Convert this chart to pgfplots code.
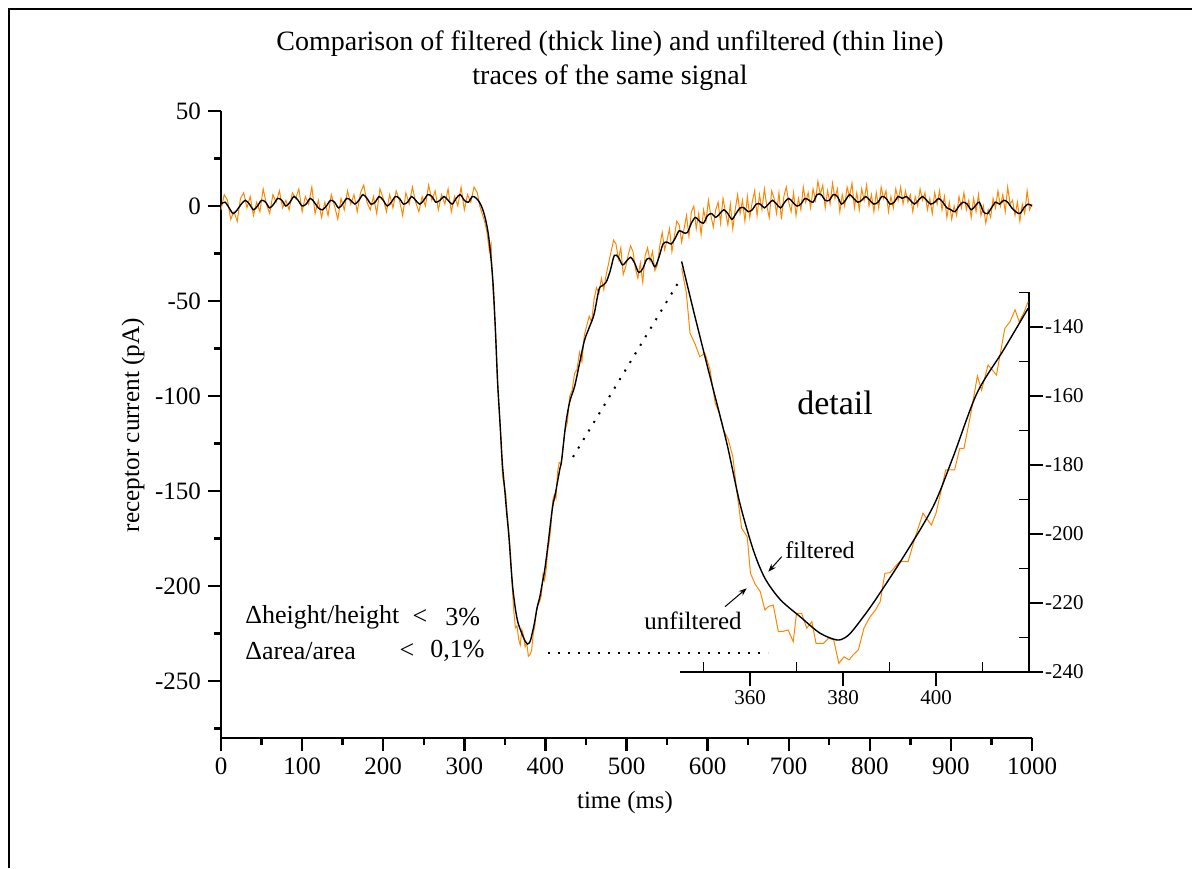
\documentclass[border=0pt]{standalone}
\usepackage{fontspec}
\setmainfont{Liberation Serif}
\usepackage{pgfplots}
\pgfplotsset{compat=1.18}
\usetikzlibrary{arrows.meta}
\definecolor{trace}{RGB}{255,134,0}

\begin{document}
\begin{tikzpicture}
\useasboundingbox (0,0) rectangle (596pt,434pt);
% frame (only top and left edges visible)
\draw[line width=1.3pt] (4.5pt,0pt) -- (4.5pt,429.5pt) -- (596pt,429.5pt);

\begin{axis}[
  at={(110.5pt,65pt)}, anchor=south west,
  width=405.5pt, height=313.5pt, scale only axis,
  xmin=0, xmax=1000, ymin=-280, ymax=50,
  axis x line=bottom, axis y line=left,
  axis line style={-, line width=1.3pt},
  xtick={0,100,...,1000}, minor xtick={50,150,...,950},
  ytick={-250,-200,...,50}, minor ytick={-275,-225,...,25},
  tick align=outside,
  major tick length=6.5pt, minor tick length=3.5pt,
  every tick/.style={black, line width=1.2pt},
  ticklabel style={font=\fontsize{12.5}{13}\selectfont},
  /pgf/number format/assume math mode=true,
  /pgf/number format/1000 sep={},
  clip=false,
]
% unfiltered trace
\addplot[trace, line width=0.5pt] coordinates {
(0,-2) (4,6) (8,3) (12,-7) (16,-3) (20,-8) (24,4) (28,7) (32,-1) (36,5)
(40,-5) (44,2) (48,-3) (52,9) (56,1) (60,-4) (64,6) (68,2) (72,8) (76,-1)
(80,3) (84,-2) (88,7) (92,4) (96,9) (100,-3) (104,5) (108,1) (112,10) (116,-4)
(120,3) (124,-6) (128,2) (132,-5) (136,6) (140,0) (144,-7) (148,4) (152,-2) (156,8)
(160,1) (164,6) (168,-3) (172,7) (176,11) (180,2) (184,-2) (188,5) (192,-4) (196,9)
(200,4) (204,-3) (208,6) (212,-1) (216,8) (220,3) (224,-5) (228,7) (232,1) (236,10)
(240,2) (244,-3) (248,5) (252,0) (256,11) (260,3) (264,8) (268,-2) (272,6) (276,1)
(280,9) (284,-3) (288,5) (292,0) (296,10) (300,-2) (304,6) (308,2) (312,10) (316,7)
(319,0) (322,-4) (325,-8) (328,-14) (331,-24) (333,-20) (335,-42) (337,-55) (339,-70)
(341,-94) (343,-108) (345,-121) (347,-142) (349,-147) (351,-151) (353,-163) (355,-172)
(357,-183) (359,-200) (361,-213) (363,-222) (365,-221) (367,-228) (369,-231) (371,-223)
(373,-226) (375,-232) (377,-230) (379,-237) (381,-236) (383,-234) (385,-225) (387,-221)
(389,-212) (391,-210) (393,-208) (395,-205) (397,-194) (399,-197) (401,-191) (403,-181)
(405,-176) (407,-168) (409,-155) (411,-152) (413,-154) (415,-140) (417,-135) (419,-136)
(421,-130) (424,-118) (427,-114) (430,-100) (433,-97) (436,-88) (439,-86) (442,-77)
(445,-82) (448,-68) (451,-63) (454,-58) (457,-61) (460,-49) (463,-43) (466,-46)
(469,-38) (472,-44) (475,-36) (478,-30) (481,-24) (484,-18) (487,-20) (490,-28)
(493,-22) (496,-36) (499,-32) (502,-26) (505,-21) (508,-24) (511,-33) (514,-38)
(517,-30) (520,-40) (523,-26) (526,-22) (529,-29) (532,-24) (535,-34) (538,-31)
(541,-21) (544,-14) (547,-23) (550,-18) (553,-12) (556,-24) (559,-16) (562,-8)
(565,-10) (568,-19) (571,-12) (574,-5) (577,-16) (580,-3) (583,0) (586,-12)
(589,-4) (592,-15) (595,-2) (598,-8) (601,3) (604,-5) (607,-11) (610,-2)
(613,2) (616,-9) (619,4) (622,-3) (625,-10) (628,1) (631,-12) (634,-2)
(637,6) (640,-4) (643,3) (646,-8) (649,5) (652,-6) (655,2) (658,8)
(661,-5) (664,6) (667,-2) (670,9) (673,0) (676,-6) (679,8) (682,4)
(685,-4) (688,7) (691,-7) (694,5) (697,10) (700,2) (703,-3) (706,7)
(709,-5) (712,4) (715,-2) (718,10) (721,2) (724,7) (727,-1) (730,9)
(733,3) (736,13) (739,6) (742,11) (745,-1) (748,8) (751,1) (754,12)
(757,4) (760,9) (763,-3) (766,6) (769,0) (772,10) (775,5) (778,12)
(781,-1) (784,7) (787,-2) (790,9) (793,3) (796,11) (799,0) (802,6)
(805,-3) (808,7) (811,-1) (814,10) (817,4) (820,8) (823,-3) (826,5)
(829,-1) (832,9) (835,3) (838,10) (841,1) (844,8) (847,2) (850,6)
(853,-3) (856,5) (859,0) (862,9) (865,3) (868,7) (871,-2) (874,4)
(877,-4) (880,7) (883,1) (886,8) (889,-2) (892,5) (895,-6) (898,2)
(901,-7) (904,0) (907,-5) (910,5) (913,-1) (916,7) (919,-2) (922,3)
(925,-6) (928,4) (931,-3) (934,6) (937,-5) (940,0) (943,-9) (946,-2)
(949,-6) (952,4) (955,-1) (958,8) (961,0) (964,6) (967,-3) (970,10)
(973,1) (976,3) (979,-5) (982,2) (985,-8) (988,1) (991,-4) (994,8)
(997,-2) (1000,1)
};
% filtered trace
\addplot[black, line width=0.7pt, smooth, tension=0.5] coordinates {
(0,1) (5,2) (10,-1) (15,-4) (20,-2) (25,1) (30,3) (35,1) (40,-2) (45,0)
(50,3) (55,2) (60,-1) (65,1) (70,4) (75,3) (80,0) (85,2) (90,5) (95,3)
(100,0) (105,1) (110,4) (115,2) (120,-1) (125,-2) (130,0) (135,3) (140,2) (145,-1)
(150,1) (155,4) (160,3) (165,1) (170,3) (175,6) (180,4) (185,1) (190,2) (195,5)
(200,3) (205,0) (210,2) (215,5) (220,4) (225,1) (230,2) (235,5) (240,3) (245,1)
(250,3) (255,6) (260,5) (265,2) (270,3) (275,5) (280,3) (285,1) (290,4) (295,6)
(300,3) (305,2) (310,5) (315,4) (320,1) (325,-5) (330,-16) (335,-38) (338,-62)
(341,-92) (344,-114) (347,-136) (350,-150) (352,-160) (355,-174) (358,-192)
(360,-202) (363,-212) (366,-219) (370,-224) (375,-229) (378,-230.5) (380,-230)
(382,-228) (386,-220.5) (390,-211) (393,-206) (396,-199) (399,-192) (403,-179)
(406,-168) (409,-158) (412,-152) (415,-145) (418,-138) (420,-134) (425,-115)
(430,-103) (436,-95) (442,-83) (448,-71) (454,-64) (460,-57) (466,-44) (470,-42)
(475,-40) (480,-34) (485,-26) (490,-27) (495,-31) (500,-29) (505,-27) (510,-30)
(515,-35) (520,-33) (525,-28) (530,-28) (535,-32) (540,-27) (545,-20) (550,-19)
(555,-20) (560,-17) (565,-13) (570,-14) (575,-14) (580,-9) (585,-6) (590,-8)
(595,-9) (600,-5) (605,-4) (610,-6) (615,-4) (620,-2) (625,-4) (630,-7)
(635,-4) (640,-1) (645,-1) (650,-3) (655,-2) (660,1) (665,1) (670,-1)
(675,1) (680,3) (685,1) (690,-1) (695,2) (700,4) (705,2) (710,0)
(715,1) (720,4) (725,3) (730,2) (735,6) (740,6) (745,3) (750,3)
(755,6) (760,5) (765,1) (770,3) (775,6) (780,4) (785,2) (790,3)
(795,5) (800,3) (805,1) (810,2) (815,5) (820,4) (825,1) (830,2)
(835,5) (840,4) (845,5) (850,3) (855,1) (860,3) (865,5) (870,3)
(875,1) (880,2) (885,4) (890,2) (895,-1) (900,-2) (905,-3) (910,0)
(915,2) (920,1) (925,-2) (930,0) (935,2) (940,-3) (945,-4) (950,-1)
(955,2) (960,1) (965,3) (970,2) (975,-1) (980,-3) (985,-4) (990,-1)
(995,1) (1000,0)
};
\end{axis}

% detail inset
\begin{axis}[
  at={(340.125pt,98pt)}, anchor=south west,
  width=174.375pt, height=189.75pt, scale only axis,
  xmin=345, xmax=420, ymin=-240, ymax=-130,
  axis x line=bottom, axis y line=right,
  axis line style={-, line width=0.8pt},
  xtick={360,380,400}, minor xtick={350,370,390,410},
  ytick={-240,-220,...,-140}, minor ytick={-230,-210,...,-130},
  tick align=center,
  major tick length=7pt, minor tick length=5pt,
  every tick/.style={black, line width=0.7pt},
  major x tick style={yshift=-3.5pt},
  minor x tick style={yshift=2.5pt},
  major y tick style={xshift=3.5pt},
  minor y tick style={xshift=-2.5pt},
  ticklabel style={font=\fontsize{10.5}{11}\selectfont},
  xticklabel style={yshift=-2pt},
  yticklabel style={xshift=1pt},
  /pgf/number format/assume math mode=true,
  clip=false,
]
\addplot[trace, line width=0.5pt] coordinates {
(345.3,-123) (346.3,-130) (347.1,-141.8) (348.2,-145) (349.2,-148.6) (350.3,-147.6)
(351.4,-152.4) (352.5,-162) (353.4,-165) (354.3,-169.9) (355.3,-172.5) (356.3,-177.6)
(357.2,-188) (358.2,-198.3) (359.4,-200.8) (360.1,-211.4) (361.1,-214.5) (362.2,-216.7)
(363.2,-222) (364,-221) (365,-220.6) (366.1,-228.3) (367.2,-228.2) (368.2,-227.8)
(369.3,-231.2) (370,-223) (371.1,-223) (372.2,-227.3) (373.3,-225.4) (374.2,-231.7)
(375.8,-231.7) (376.9,-230.2) (378,-230.7) (379.1,-237.5) (380.2,-235.6) (381.3,-236.5)
(382.2,-235) (383.3,-233.6) (384.5,-227.3) (385.8,-224) (387,-222) (388,-219.6)
(389,-211.4) (390.1,-211.2) (391.2,-209.5) (392.2,-208) (394,-208) (395.5,-201)
(397.2,-194) (398,-195.5) (399,-197.4) (400,-194) (401,-188) (402.1,-181.4)
(404,-181.4) (405.1,-175.2) (406,-175.2) (407.5,-165) (408.9,-154.2) (409.8,-158.3)
(411.2,-151) (413,-153.9) (414.8,-140.4) (415.9,-138.5) (417,-135) (417.9,-138.5)
(419,-135.5) (419.8,-132.7)
};
\addplot[black, line width=0.7pt, smooth] coordinates {
(345.3,-121) (347.8,-135) (351.4,-154.4) (355,-173.6) (357.8,-191) (360.7,-204.6)
(363.2,-212.8) (366.5,-219) (370.8,-224) (375,-228.7) (378.6,-230.7) (380.5,-230)
(382.2,-227.8) (386.5,-220) (393,-206.6) (399.4,-192) (403.7,-177.6) (408.8,-159.2)
(414.5,-146.7) (419.8,-134.6)
};
\end{axis}

% titles and labels
\node[font=\fontsize{14}{16}\selectfont] at (305pt,412pt) {Comparison of filtered (thick line) and unfiltered (thin line)};
\node[font=\fontsize{14}{16}\selectfont] at (305pt,395pt) {traces of the same signal};
\node[font=\fontsize{12.6}{14}\selectfont, rotate=90] at (66.5pt,221.5pt) {receptor current (pA)};
\node[font=\fontsize{12.4}{14}\selectfont] at (312.5pt,32.5pt) {time (ms)};

% annotations
\node[font=\fontsize{17}{19}\selectfont] at (417.5pt,232.5pt) {detail};
\node[font=\fontsize{12}{13}\selectfont, anchor=west, inner sep=0pt] at (392.5pt,159pt) {filtered};
\node[font=\fontsize{12.5}{13}\selectfont, anchor=east, inner sep=0pt] at (371pt,123.5pt) {unfiltered};
\draw[-{Stealth[length=4pt,width=3pt]}, line width=0.5pt] (390.85pt,155.65pt) -- (384.15pt,148.15pt);
\draw[-{Stealth[length=4pt,width=3pt]}, line width=0.5pt] (362.5pt,130.65pt) -- (373.35pt,139.85pt);
\draw[line width=1pt, dash pattern=on 1pt off 4pt] (286.5pt,205.5pt) -- (340.5pt,295pt);
\draw[line width=1pt, dash pattern=on 1pt off 4pt] (274pt,107.5pt) -- (384pt,107.5pt);

\begin{scope}[every node/.style={font=\fontsize{13}{15}\selectfont, inner sep=0pt}]
\node[anchor=west] at (122.5pt,125.5pt) {Δheight/height};
\node at (210pt,125.5pt) {<};
\node[anchor=west] at (222.5pt,125.5pt) {3\%};
\node[anchor=west] at (122.5pt,108.5pt) {Δarea/area};
\node at (203.5pt,108.5pt) {<};
\node[anchor=west] at (215pt,108.5pt) {0,1\%};
\end{scope}
\end{tikzpicture}
\end{document}
